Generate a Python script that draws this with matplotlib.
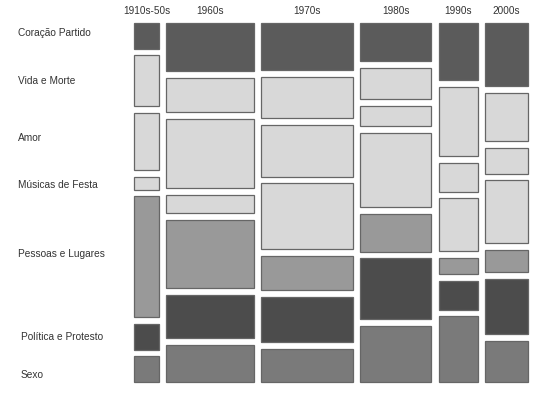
import matplotlib
matplotlib.use("Agg")
import matplotlib.pyplot as plt
from matplotlib.patches import Rectangle
import numpy as np

plt.rcParams['font.family'] = ['Liberation Sans', 'DejaVu Sans']

# decades (columns) and themes (rows)
decades = ['1910s-50s', '1960s', '1970s', '1980s', '1990s', '2000s']
themes = ['Coração Partido', 'Vida e Morte', 'Amor', 'Músicas de Festa',
          'Pessoas e Lugares', 'Política e Protesto', 'Sexo']

# number of songs per theme in each decade
c_1910s = [4, 8, 9, 2, 19, 4, 4]
c_1960s = [26, 19, 38, 10, 37, 24, 20]
c_1970s = [27, 24, 30, 38, 20, 26, 19]
c_1980s = [17, 14, 9, 33, 17, 27, 25]
c_1990s = [14, 17, 7, 13, 4, 7, 16]
c_2000s = [17, 13, 7, 17, 6, 15, 11]

theme_colors = ['#5b5b5b', '#d8d8d8', '#d8d8d8', '#d8d8d8',
                '#999999', '#4c4c4c', '#7a7a7a']

counts = np.array([c_1910s, c_1960s, c_1970s, c_1980s, c_1990s, c_2000s],
                  dtype=float)

fig = plt.figure(figsize=(5.4, 3.93), dpi=100)
ax = fig.add_axes([0, 0, 1, 1])
ax.set_xlim(0, 540)
ax.set_ylim(393, 0)
ax.axis('off')

# mosaic area (pixels)
x0, x1 = 134, 528
y0, y1 = 23.3, 381.7
gx, gy = 7.2, 6.7

totals = counts.sum(axis=1)
avail_w = (x1 - x0) - gx * (len(decades) - 1)
widths = avail_w * totals / totals.sum()

x = x0
for i, dec in enumerate(decades):
    w = widths[i]
    avail_h = (y1 - y0) - gy * (len(themes) - 1)
    heights = avail_h * counts[i] / totals[i]
    y = y0
    for j in range(len(themes)):
        h = heights[j]
        ax.add_patch(Rectangle((x, y), w, h, facecolor=theme_colors[j],
                               edgecolor='#666666', linewidth=0.9))
        y += h + gy
    ax.text(x + w / 2, 11, dec, ha='center', va='center', fontsize=7.2,
            color='#333333')
    x += w + gx

# row labels
label_x = [18, 18, 18, 18, 18, 21, 21]
label_y = [33.3, 80.7, 137.7, 184.5, 254.3, 337, 375]
for t, lx, ly in zip(themes, label_x, label_y):
    ax.text(lx, ly, t, ha='left', va='center', fontsize=7.3, color='#333333')

fig.savefig('out.png', dpi=100)
